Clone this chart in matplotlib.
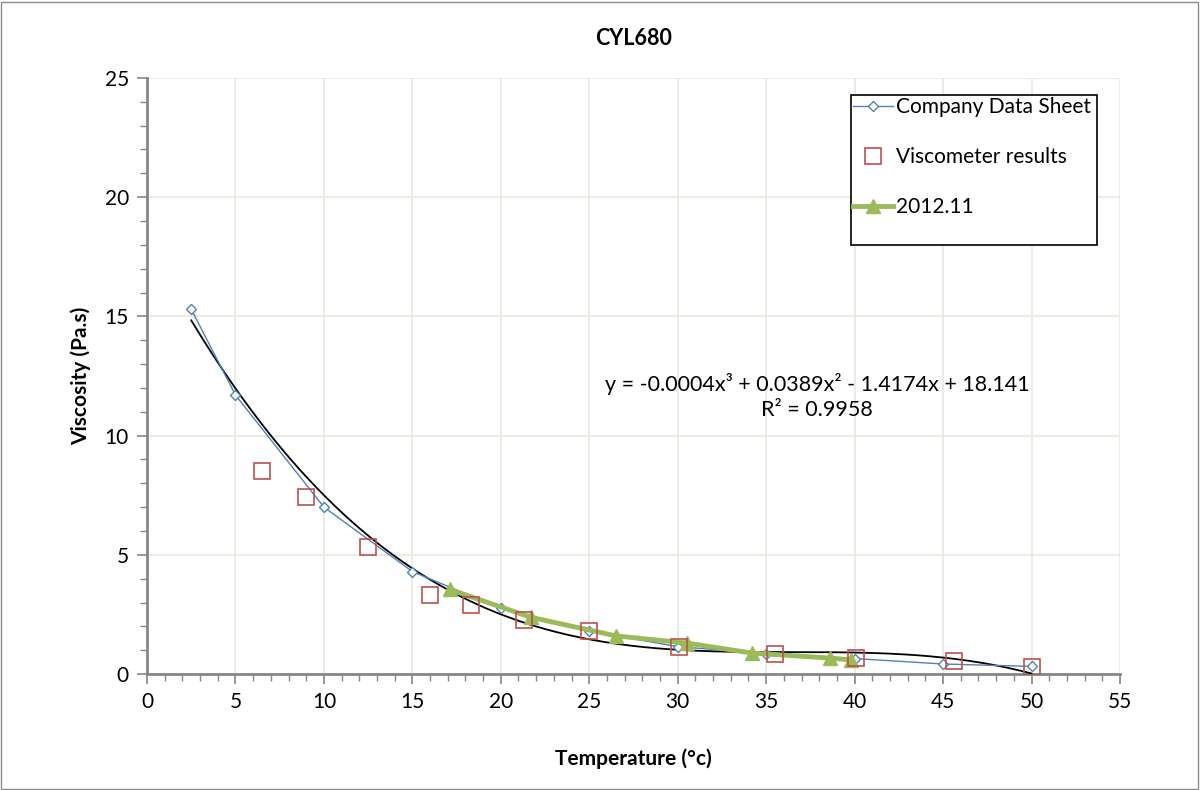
import numpy as np
import matplotlib.pyplot as plt
from matplotlib.patches import Rectangle
from matplotlib.ticker import MultipleLocator

plt.rcParams['font.family'] = ['Lato', 'DejaVu Sans']

# Company data sheet
company_t = [2.5, 5, 10, 15, 20, 25, 30, 35, 40, 45, 50]
company_v = [15.3, 11.7, 7.0, 4.3, 2.75, 1.8, 1.15, 0.85, 0.65, 0.42, 0.32]

# Viscometer results
visco_t = [6.5, 9.0, 12.5, 16.0, 18.3, 21.3, 25.0, 30.1, 35.5, 40.1, 45.6, 50.0]
visco_v = [8.5, 7.42, 5.33, 3.31, 2.9, 2.27, 1.8, 1.13, 0.84, 0.67, 0.55, 0.29]

# 2012.11 series
s2012_t = [17.1, 21.7, 26.5, 30.5, 34.2, 38.6, 39.8]
s2012_v = [3.55, 2.38, 1.6, 1.3, 0.88, 0.67, 0.59]

# cubic trendline (Excel rounds the x^3 term to -0.0004)
trend_coef = [-0.000356, 0.0389, -1.4174, 18.141]
trend_range = (2.5, 50)

fig = plt.figure(figsize=(12, 7.9), dpi=100)
fig.patches.append(Rectangle((0.001, 0.001), 0.997, 0.997, transform=fig.transFigure,
                             fill=False, edgecolor='#8c8c8c', linewidth=1))
ax = fig.add_axes([0.1225, 0.1468, 0.8108, 0.7545])

tx = np.linspace(trend_range[0], trend_range[1], 200)
ax.plot(tx, np.polyval(trend_coef, tx), color='black', linewidth=1.3, zorder=3)

ax.plot(company_t, company_v, color='#4F81BD', linewidth=1, marker='D', markersize=5.5,
        markerfacecolor='white', markeredgecolor='#4F81BD', markeredgewidth=1,
        label='Company Data Sheet', zorder=4)
ax.plot(visco_t, visco_v, linestyle='none', marker='s', markersize=11,
        markerfacecolor='none', markeredgecolor='#C0504D', markeredgewidth=1.2,
        label='Viscometer results', zorder=5)
ax.plot(s2012_t, s2012_v, color='#9BBB59', linewidth=3.5, marker='^', markersize=10,
        label='2012.11', zorder=4)

ax.set_xlim(0, 55)
ax.set_ylim(0, 25)
ax.xaxis.set_major_locator(MultipleLocator(5))
ax.xaxis.set_minor_locator(MultipleLocator(1))
ax.yaxis.set_major_locator(MultipleLocator(5))
ax.yaxis.set_minor_locator(MultipleLocator(1))
ax.grid(True, which='major', color='#EBE7DD', linewidth=1.2)
ax.set_axisbelow(True)
for s in ['top', 'right']:
    ax.spines[s].set_visible(False)
for s in ['left', 'bottom']:
    ax.spines[s].set_color('#868686')
    ax.spines[s].set_linewidth(2)
ax.tick_params(which='major', length=7, width=1.2, color='#868686', labelsize=15, pad=6)
ax.tick_params(which='minor', length=5, width=1, color='#868686')

ax.set_title('CYL680', fontsize=15.5, fontweight='bold', pad=24)
ax.set_xlabel('Temperature (°c)', fontsize=15, fontweight='bold', labelpad=26)
ax.set_ylabel('Viscosity (Pa.s)', fontsize=15, fontweight='bold', labelpad=10)

ax.text(0.689, 0.465, 'y = -0.0004x³ + 0.0389x² - 1.4174x + 18.141\nR² = 0.9958',
        transform=ax.transAxes, ha='center', va='center', fontsize=15.5, linespacing=1.3)

# legend box drawn separately: Excel leaves extra room below the last entry
ax.add_patch(Rectangle((0.7235, 0.7198), 0.2529, 0.2517, transform=ax.transAxes,
                       fill=True, facecolor='white', edgecolor='black', linewidth=1.2,
                       zorder=6))
leg = ax.legend(loc='upper left', bbox_to_anchor=(0.7235, 0.9715), fontsize=15,
                frameon=False, labelspacing=1.45, handlelength=1.9,
                handletextpad=0.15, borderpad=0.1, borderaxespad=0)
leg.set_zorder(7)

fig.savefig('out.png', dpi=100)
